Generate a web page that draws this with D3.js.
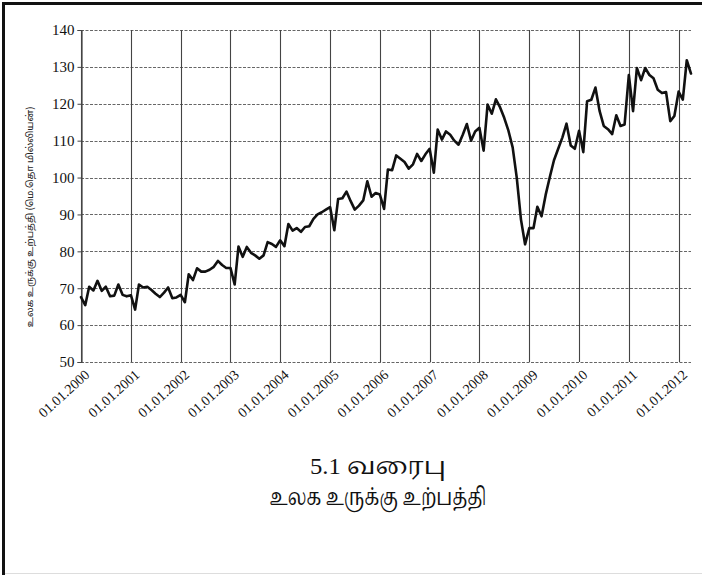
<!DOCTYPE html>
<html>
<head>
<meta charset="utf-8">
<script src="https://cdn.jsdelivr.net/npm/d3@7"></script>
<style>
  html, body { margin: 0; padding: 0; background: #fff; }
  svg { display: block; }
</style>
</head>
<body>
<svg id="chart" width="702" height="575"></svg>
<script>
// ---- data (monthly, from Jan 2000) ----
const startYear = 2000;
const values = [
  67.6, 65.4, 70.4, 69.4, 72.0, 69.3, 70.4, 67.8, 68.0, 71.0, 68.2, 67.8,
  68.1, 64.2, 71.0, 70.2, 70.4, 69.5, 68.5, 67.6, 68.8, 70.2, 67.3, 67.5,
  68.2, 66.2, 73.8, 72.2, 75.4, 74.5, 74.5, 75.0, 75.8, 77.4, 76.3, 75.5,
  75.5, 71.0, 81.3, 78.5, 81.2, 79.6, 78.9, 78.0, 78.9, 82.5, 82.0, 81.2,
  83.0, 81.4, 87.4, 85.6, 86.3, 85.3, 86.6, 86.8, 88.8, 90.0, 90.6, 91.3,
  92.0, 85.7, 94.2, 94.4, 96.2, 93.6, 91.3, 92.4, 93.8, 99.0, 94.8, 95.8,
  95.4, 91.5, 102.2, 102.0, 106.0, 105.1, 104.2, 102.4, 103.6, 106.4, 104.5, 106.3,
  107.8, 101.3, 113.0, 110.3, 112.5, 111.6, 110.0, 108.9, 111.6, 114.5, 110.0, 112.5,
  113.5, 107.3, 119.8, 117.3, 121.2, 119.0, 116.2, 112.7, 108.2, 100.0, 88.6, 81.9,
  86.3, 86.3, 92.1, 89.5, 95.3, 100.2, 104.7, 107.8, 110.9, 114.6, 108.7, 107.8,
  112.7, 106.9, 120.7, 121.1, 124.4, 118.0, 114.0, 113.1, 111.8, 116.9, 114.0, 114.4,
  127.8, 118.0, 129.7, 126.4, 129.7, 127.8, 126.9, 123.8, 122.9, 123.2, 115.3, 116.7,
  123.3, 121.1, 131.8, 128.2
];
const yTicks = [50, 60, 70, 80, 90, 100, 110, 120, 130, 140];
const xTickYears = [2000, 2001, 2002, 2003, 2004, 2005, 2006, 2007, 2008, 2009, 2010, 2011, 2012];
const yAxisTitle = "உலக உருக்கு உற்பத்தி (மெ.தொ மில்லியன்)";
const titleLines = ["5.1  வரைபு", "உலக  உருக்கு  உற்பத்தி"];

// ---- build ----
const data = values.map((v, i) => ({ date: new Date(startYear, i, 1), value: v }));
const svg = d3.select("#chart");

const plotL = 81, plotR = 691, plotT = 30, plotB = 362;
const x = d3.scaleTime()
  .domain([new Date(2000, 0, 1), new Date(2012, 3, 1)])
  .range([plotL, plotR]);
const y = d3.scaleLinear().domain([50, 140]).range([plotB, plotT]);

// frame
svg.append("line").attr("x1", 3.5).attr("x2", 3.5).attr("y1", 2).attr("y2", 575)
  .attr("stroke", "#111").attr("stroke-width", 3);
svg.append("line").attr("x1", 2).attr("x2", 702).attr("y1", 3.5).attr("y2", 3.5)
  .attr("stroke", "#111").attr("stroke-width", 3);
svg.append("line").attr("x1", 5).attr("x2", 702).attr("y1", 573.5).attr("y2", 573.5)
  .attr("stroke", "#ddd").attr("stroke-width", 1);

// horizontal gridlines
svg.append("g").selectAll("line").data(yTicks).join("line")
  .attr("x1", plotL).attr("x2", plotR)
  .attr("y1", d => Math.round(y(d)) + 0.5).attr("y2", d => Math.round(y(d)) + 0.5)
  .attr("stroke", "#666").attr("stroke-width", 1.2).attr("stroke-dasharray", "3,1.5");

// vertical gridlines
const xTickDates = xTickYears.map(yr => new Date(yr, 0, 1));
svg.append("g").selectAll("line").data(xTickDates).join("line")
  .attr("x1", d => Math.round(x(d)) + 0.5).attr("x2", d => Math.round(x(d)) + 0.5)
  .attr("y1", plotT).attr("y2", plotB)
  .attr("stroke", "#444").attr("stroke-width", 1.1);

// y axis
const yAxis = d3.axisLeft(y).tickValues(yTicks).tickSize(4).tickPadding(3);
const gy = svg.append("g").attr("transform", `translate(${plotL + 0.5},0)`).call(yAxis);
gy.select(".domain").attr("stroke", "#444").attr("stroke-width", 1.2);
gy.selectAll(".tick line").attr("stroke", "#444");
gy.selectAll("text").attr("font-family", "'Liberation Serif', 'Times New Roman', serif")
  .attr("font-size", 15).attr("fill", "#111");

// x axis labels
const xAxis = d3.axisBottom(x).tickValues(xTickDates).tickSize(0).tickFormat(d3.timeFormat("%d.%m.%Y"));
const gx = svg.append("g").attr("transform", `translate(0,${plotB})`).call(xAxis);
gx.select(".domain").remove();
gx.selectAll("text")
  .attr("font-family", "'Liberation Serif', 'Times New Roman', serif")
  .attr("font-size", 14).attr("fill", "#111")
  .attr("text-anchor", "end")
  .attr("dy", null).attr("y", null)
  .attr("transform", "translate(9,14) rotate(-42)");

// line
const line = d3.line().x(d => x(d.date)).y(d => y(d.value));
svg.append("path").datum(data)
  .attr("d", line)
  .attr("fill", "none").attr("stroke", "#111")
  .attr("stroke-width", 2.6).attr("stroke-linejoin", "round").attr("stroke-linecap", "round");

// y axis title
svg.append("text")
  .attr("transform", "translate(33,217) rotate(-90)")
  .attr("text-anchor", "middle")
  .attr("font-family", "'Noto Sans Tamil', 'Lohit Tamil', 'Noto Serif Tamil', serif")
  .attr("font-size", 9.5).attr("fill", "#222")
  .text(yAxisTitle);

// chart title
const titleWidths = [136, 217];
svg.append("g").selectAll("text").data(titleLines).join("text")
  .attr("x", 378).attr("y", (d, i) => 474 + i * 31)
  .attr("text-anchor", "middle")
  .attr("font-family", "'Liberation Serif', 'Noto Serif Tamil', 'Noto Sans Tamil', serif")
  .attr("font-size", 24).attr("fill", "#111")
  .attr("textLength", (d, i) => titleWidths[i])
  .attr("lengthAdjust", "spacingAndGlyphs")
  .text(d => d);
</script>
</body>
</html>
